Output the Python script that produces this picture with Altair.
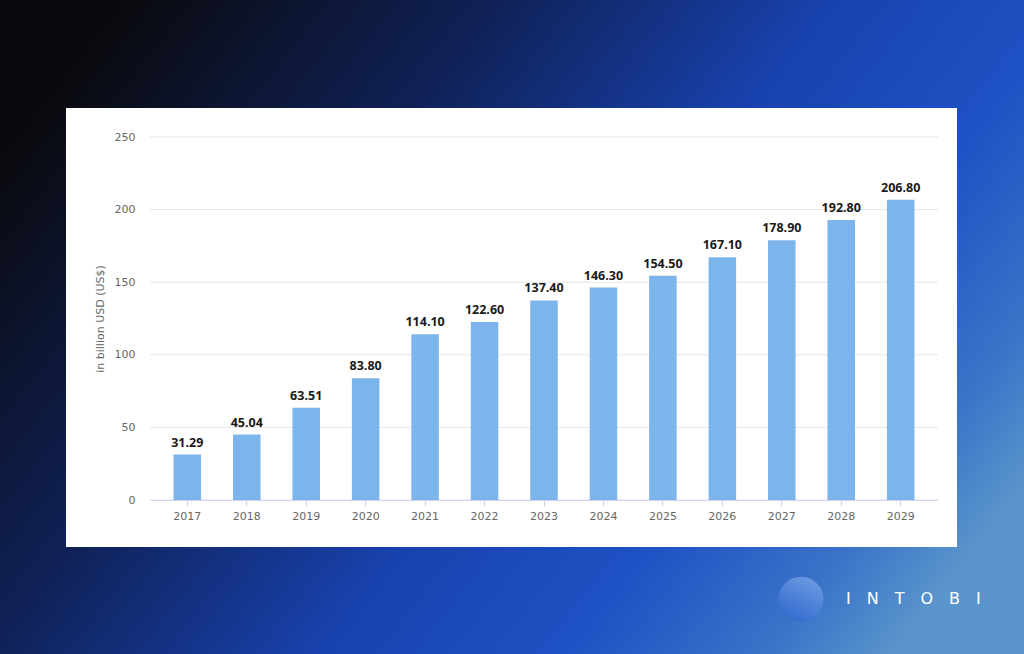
import altair as alt
import pandas as pd

years = ["2017", "2018", "2019", "2020", "2021", "2022", "2023",
         "2024", "2025", "2026", "2027", "2028", "2029"]
values = [31.29, 45.04, 63.51, 83.80, 114.10, 122.60, 137.40,
          146.30, 154.50, 167.10, 178.90, 192.80, 206.80]
grid_ticks = [0, 50, 100, 150, 200, 250]
y_title = "in billion USD (US$)"
brand = "I\u2003N\u2003T\u2003O\u2003B\u2003I"

df = pd.DataFrame({"year": years, "value": values})
grid_df = pd.DataFrame({"value": grid_ticks})
one = pd.DataFrame({"a": [0]})

FONT = "DejaVu Sans"
W, H = 788, 363
PL, PT = 150, 137

bg_grad = alt.Gradient(
    gradient="linear",
    stops=[
        alt.GradientStop(color="#0a0a0e", offset=0),
        alt.GradientStop(color="#10225a", offset=0.3),
        alt.GradientStop(color="#1842ae", offset=0.55),
        alt.GradientStop(color="#1e51c4", offset=0.74),
        alt.GradientStop(color="#3a74c8", offset=0.9),
        alt.GradientStop(color="#5a95cc", offset=1),
    ],
    x1=0, y1=0.25, x2=1, y2=0.75,
)

bg = alt.Chart(one).mark_rect(color=bg_grad).encode(
    x=alt.value(-PL), x2=alt.value(1024 - PL),
    y=alt.value(-PT), y2=alt.value(654 - PT),
)

panel = alt.Chart(one).mark_rect(color="#ffffff").encode(
    x=alt.value(66 - PL), x2=alt.value(957 - PL),
    y=alt.value(108 - PT), y2=alt.value(547 - PT),
)

yscale = alt.Scale(domain=[0, 250], nice=False)
yaxis = alt.Axis(title=y_title, values=grid_ticks, grid=False, domain=False,
                 ticks=False, labelPadding=15, labelFont=FONT, labelFontSize=11,
                 labelColor="#666666", titleFont=FONT, titleFontSize=11,
                 titleFontWeight="normal", titleColor="#666666",
                 titlePadding=9, zindex=1)

grid = alt.Chart(grid_df).mark_rule(color="#e6e6e6", strokeWidth=1).encode(
    y=alt.Y("value:Q", scale=yscale, axis=yaxis),
)

xscale = alt.Scale(paddingInner=0.537, paddingOuter=0.396)

bars = alt.Chart(df).mark_bar(color="#7cb5ec").encode(
    x=alt.X("year:N", scale=xscale, sort=years,
            axis=alt.Axis(title=None, labelAngle=0, labelFont=FONT, labelFontSize=11,
                          labelColor="#666666", tickSize=6, tickColor="#ccd6eb",
                          domainColor="#ccd6eb", labelPadding=4, zindex=1)),
    y=alt.Y("value:Q", scale=yscale, axis=yaxis),
)

labels = alt.Chart(df).mark_text(
    font="Open Sans", fontSize=12.5, fontWeight="bold", color="#1a1a1a",
    baseline="bottom", dy=-5,
).encode(
    x=alt.X("year:N", scale=xscale, sort=years),
    y=alt.Y("value:Q", scale=yscale, axis=yaxis),
    text=alt.Text("value:Q", format=".2f"),
)

circle_grad = alt.Gradient(
    gradient="linear",
    stops=[
        alt.GradientStop(color="#9bbcf5", offset=0),
        alt.GradientStop(color="#5f8ee6", offset=0.5),
        alt.GradientStop(color="#2f63d2", offset=1),
    ],
    x1=0.7, y1=0, x2=0.3, y2=1,
)

logo_circle = alt.Chart(one).mark_circle(
    color=circle_grad, opacity=0.55, size=2000,
).encode(x=alt.value(801 - PL), y=alt.value(599 - PT))

logo_text = alt.Chart(one).mark_text(
    text=brand, font=FONT, fontSize=16, fontWeight="normal", color="#ffffff",
    align="left", baseline="middle",
).encode(x=alt.value(846 - PL), y=alt.value(599 - PT))

chart = alt.layer(bg, panel, grid, bars, labels, logo_circle, logo_text).properties(
    width=W, height=H,
    autosize=alt.AutoSizeParams(type="none"),
    padding={"left": PL, "top": PT, "right": 1024 - PL - W, "bottom": 654 - PT - H},
).configure_view(stroke=None)

chart.save("out.html", embed_options={"renderer": "svg", "actions": False})
